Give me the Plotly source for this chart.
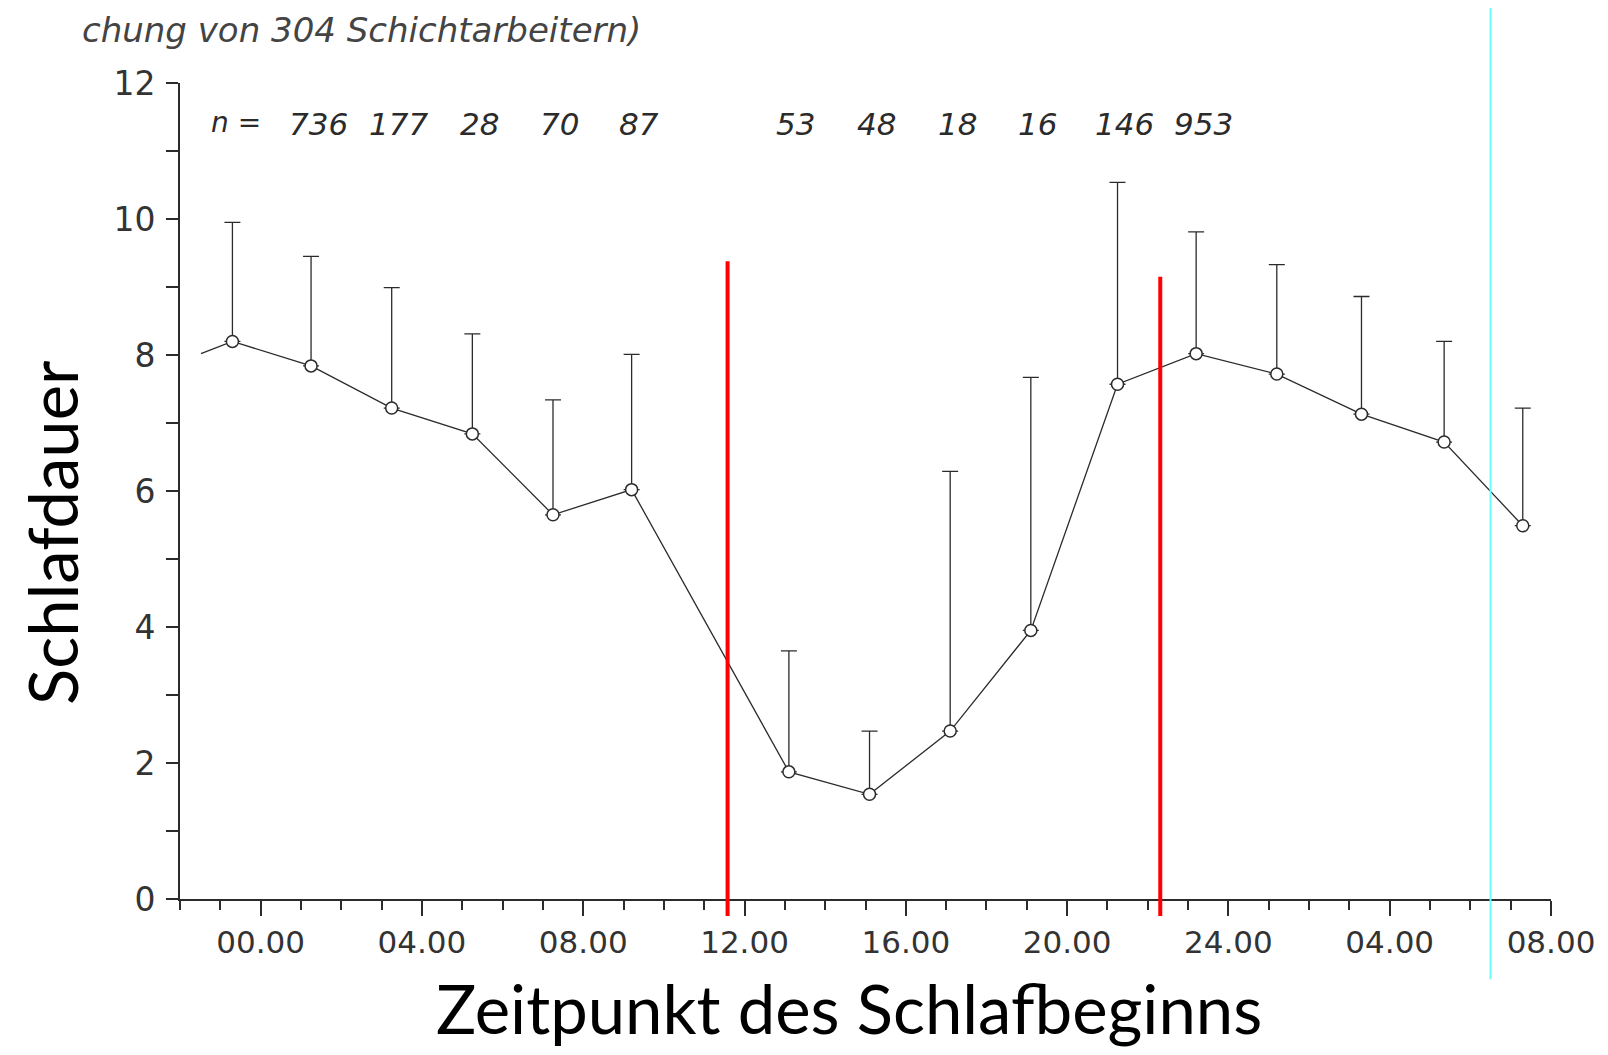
import plotly.graph_objects as go

# ---------------- data ----------------
start_hour = [-0.7, 1.25, 3.25, 5.25, 7.25, 9.2, 13.1, 15.1, 17.1, 19.1,
              21.25, 23.2, 25.2, 27.3, 29.35, 31.3]
mean_sleep = [8.20, 7.84, 7.22, 6.84, 5.65, 6.02, 1.87, 1.54, 2.47, 3.95,
              7.57, 8.02, 7.72, 7.13, 6.72, 5.49]
upper_sd = [9.95, 9.45, 8.99, 8.31, 7.34, 8.01, 3.65, 2.47, 6.29, 7.67,
            10.54, 9.81, 9.33, 8.86, 8.20, 7.22]
lead_hour = [-1.48]
lead_value = [8.02]
n_counts = ["736", "177", "28", "70", "87", "53", "48", "18", "16", "146", "953"]
n_hours = start_hour[1:12]

x_tick_vals = [0, 4, 8, 12, 16, 20, 24, 28, 32]
x_tick_text = ["00.00", "04.00", "08.00", "12.00", "16.00", "20.00",
               "24.00", "04.00", "08.00"]
y_tick_vals = [0, 2, 4, 6, 8, 10, 12]

marker_hours = [11.58, 22.31]     # red vertical marks
marker_tops = [9.38, 9.15]
cyan_hour = 30.5

# ---------------- layout geometry ----------------
OFF = 8                      # page body margin
W, H = 1600, 1047
L, R, T, B = 172, 57, 75, 156
XMIN, XMAX = -2, 32
YMIN, YMAX = 0, 12


def hx(h):
    return (h - XMIN) / (XMAX - XMIN)


def vy(v):
    return (v - YMIN) / (YMAX - YMIN)


def px_x(p):
    return (p - OFF - L) / (W - L - R)


def px_y(p):
    return (H - B - (p - OFF)) / (H - T - B)


INK = "#2b2b2b"

fig = go.Figure()

fig.add_trace(go.Scatter(
    x=lead_hour + start_hour, y=lead_value + mean_sleep, mode="lines",
    line=dict(color=INK, width=1.3), hoverinfo="skip", showlegend=False))

fig.add_trace(go.Scatter(
    x=start_hour, y=mean_sleep, mode="markers",
    marker=dict(symbol="circle", size=12, color="white",
                line=dict(color=INK, width=1.5)),
    error_y=dict(type="data", symmetric=False,
                 array=[u - m for u, m in zip(upper_sd, mean_sleep)],
                 arrayminus=[0] * len(mean_sleep),
                 color=INK, thickness=1.3, width=8),
    showlegend=False))

shapes = []
for h, top in zip(marker_hours, marker_tops):
    shapes.append(dict(type="line", xref="paper", yref="paper",
                       x0=hx(h), x1=hx(h), y0=vy(top), y1=px_y(916),
                       line=dict(color="#ff0000", width=4), layer="above"))
shapes.append(dict(type="line", xref="paper", yref="paper",
                   x0=hx(cyan_hour), x1=hx(cyan_hour), y0=px_y(8), y1=px_y(979),
                   line=dict(color="#66ffff", width=2), layer="above"))

annotations = []
annotations.append(dict(text="n =", x=-0.6, y=11.42, xref="x", yref="y",
                        showarrow=False,
                        font=dict(family="DejaVu Sans", size=28, color=INK,
                                  style="italic")))
for h, n in zip(n_hours, n_counts):
    annotations.append(dict(text=n, x=h, y=11.40, xref="x", yref="y",
                            xshift=7, showarrow=False,
                            font=dict(family="DejaVu Sans", size=31, color=INK,
                                      style="italic")))
annotations.append(dict(text="chung von 304 Schichtarbeitern)",
                        x=px_x(80), y=px_y(30), xref="paper", yref="paper",
                        xanchor="left", yanchor="middle", showarrow=False,
                        font=dict(family="DejaVu Sans", size=34, color="#444",
                                  style="italic")))
annotations.append(dict(text="Zeitpunkt des Schlafbeginns",
                        x=px_x(849), y=px_y(1008), xref="paper", yref="paper",
                        xanchor="center", yanchor="middle", showarrow=False,
                        font=dict(family="Lato", size=67, color="black")))
annotations.append(dict(text="Schlafdauer", textangle=-90,
                        x=px_x(52), y=px_y(533), xref="paper", yref="paper",
                        xanchor="center", yanchor="middle", showarrow=False,
                        font=dict(family="Lato", size=67, color="black")))

fig.update_layout(
    width=W, height=H,
    margin=dict(l=L, r=R, t=T, b=B, pad=0),
    paper_bgcolor="white", plot_bgcolor="white",
    shapes=shapes, annotations=annotations,
    xaxis=dict(range=[XMIN, XMAX], tickmode="array", tickvals=x_tick_vals,
               ticktext=x_tick_text, ticks="outside", ticklen=15, tickwidth=2,
               tickcolor=INK, showline=True, linecolor=INK, linewidth=2,
               showgrid=False, zeroline=False, ticklabelstandoff=0,
               tickfont=dict(family="DejaVu Sans", size=31, color="#333"),
               minor=dict(dtick=1, tick0=0, ticks="outside", ticklen=9,
                          tickwidth=2, tickcolor=INK, showgrid=False)),
    yaxis=dict(range=[YMIN, YMAX], tickmode="array", tickvals=y_tick_vals,
               ticks="outside", ticklen=12, tickwidth=2, tickcolor=INK,
               showline=True, linecolor=INK, linewidth=2, showgrid=False,
               zeroline=False, ticklabelstandoff=4,
               tickfont=dict(family="DejaVu Sans", size=33, color="#333"),
               minor=dict(dtick=1, tick0=0, ticks="outside", ticklen=12,
                          tickwidth=2, tickcolor=INK, showgrid=False)),
)

fig.write_html("out.html")
